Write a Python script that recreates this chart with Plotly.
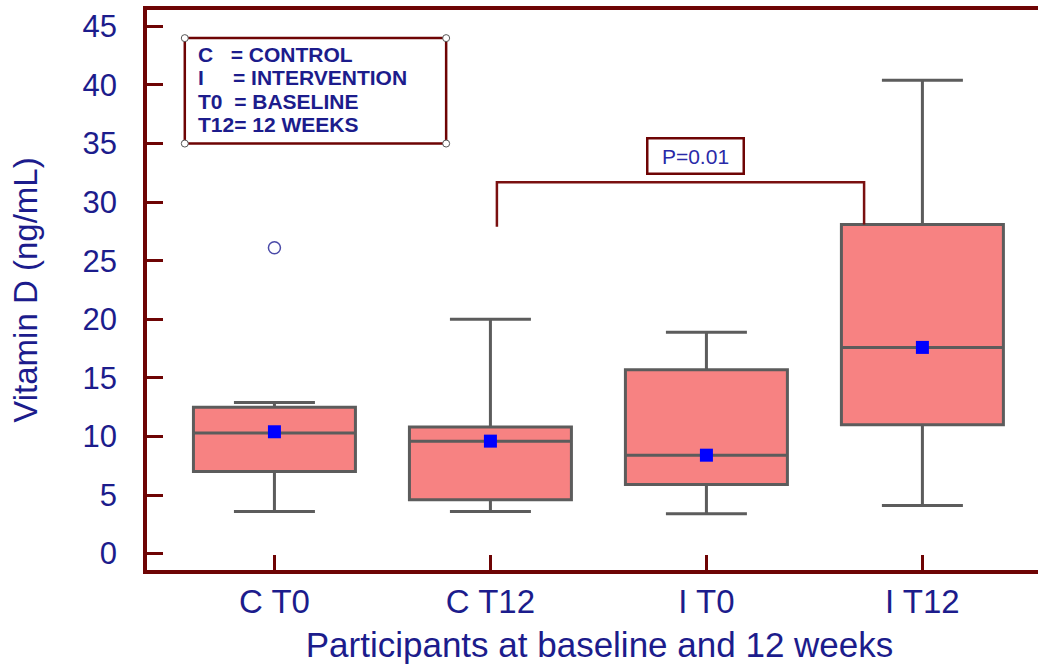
import plotly.graph_objects as go

# ---- data ----
groups = ["C T0", "C T12", "I T0", "I T12"]
lower_whisker = [3.6, 3.6, 3.4, 4.1]
q1 = [7.0, 4.6, 5.9, 11.0]
median = [10.3, 9.6, 8.4, 17.6]
q3 = [12.5, 10.8, 15.7, 28.1]
upper_whisker = [12.9, 20.0, 18.9, 40.4]
means = [10.4, 9.6, 8.4, 17.6]
outlier_group = ["C T0"]
outlier_value = [26.1]

legend_lines = ["C\u00a0\u00a0\u00a0= CONTROL", "I\u00a0\u00a0\u00a0\u00a0\u00a0= INTERVENTION",
                "T0\u00a0\u00a0= BASELINE", "T12= 12 WEEKS"]
legend_line_y = [42.6, 40.6, 38.6, 36.6]
p_text = "P=0.01"

AXIS = "#6e0404"
NAVY = "#1c1c8c"
FONT = "Liberation Sans, Arial, sans-serif"

fig = go.Figure()
fig.add_trace(go.Box(
    x=groups, q1=q1, median=median, q3=q3,
    lowerfence=lower_whisker, upperfence=upper_whisker,
    width=0.75, whiskerwidth=0.5,
    fillcolor="#f78282", line=dict(color="#5c5c5c", width=3),
    boxpoints=False, showlegend=False, hoverinfo="skip"))
fig.add_trace(go.Scatter(
    x=groups, y=means, mode="markers",
    marker=dict(symbol="square", size=13, color="#0000ff"),
    showlegend=False))
fig.add_trace(go.Scatter(
    x=outlier_group, y=outlier_value, mode="markers",
    marker=dict(symbol="circle-open", size=12, color="#4a4aa8", line=dict(width=1.5)),
    showlegend=False))

# significance bracket between C T12 and I T12
fig.add_shape(type="path", xref="x", yref="y",
              path="M 1.03,27.9 L 1.03,31.7 L 2.73,31.7 L 2.73,28.1",
              line=dict(color="#7a1010", width=2.5))
fig.add_annotation(x=1.95, y=33.9, xref="x", yref="y", text=p_text, showarrow=False,
                   font=dict(family=FONT, size=21, color="#2a2aa8"),
                   bordercolor="#6e0404", borderwidth=2.5, borderpad=5, bgcolor="white",
                   width=84)

# legend/key box
fig.add_shape(type="rect", xref="x", yref="y", x0=-0.415, x1=0.795, y0=35.0, y1=44.0,
              line=dict(color="#6e0404", width=2.5), fillcolor="white", layer="above")
for cx in (-0.415, 0.795):
    for cy in (35.0, 44.0):
        fig.add_shape(type="circle", xref="x", yref="y", xsizemode="pixel", ysizemode="pixel",
                      xanchor=cx, yanchor=cy, x0=-3.5, x1=3.5, y0=-3.5, y1=3.5,
                      line=dict(color="#555555", width=1), fillcolor="white", layer="above")
for line_text, ly in zip(legend_lines, legend_line_y):
    fig.add_annotation(x=-0.365, y=ly, xref="x", yref="y", xanchor="left", yanchor="middle",
                       text=line_text, align="left", showarrow=False,
                       font=dict(family=FONT, size=21, color=NAVY, weight="bold"))

# figure is slightly wider than the window so the plot area runs off the right edge
fig.update_layout(
    width=1052, height=664,
    margin=dict(l=147, r=0, t=10, b=94),
    paper_bgcolor="white", plot_bgcolor="white",
    font=dict(family=FONT, color=NAVY),
    xaxis=dict(type="category", range=[-0.59, 3.6], showgrid=False, zeroline=False,
               showline=True, linecolor=AXIS, linewidth=3.5, mirror=True,
               ticks="inside", ticklen=15, tickwidth=3, tickcolor=AXIS,
               tickfont=dict(size=33, color=NAVY), ticklabelstandoff=0,
               title=dict(text="Participants at baseline and 12 weeks",
                          font=dict(size=35, color=NAVY), standoff=20)),
    yaxis=dict(range=[-1.4, 46.4], tickmode="array", tickvals=list(range(0, 50, 5)),
               showgrid=False, zeroline=False, mirror=False,
               showline=True, linecolor=AXIS, linewidth=3.5,
               ticks="inside", ticklen=16, tickwidth=3, tickcolor=AXIS,
               tickfont=dict(size=31, color=NAVY), ticklabelstandoff=20,
               title=dict(text="Vitamin D (ng/mL)", font=dict(size=33, color=NAVY), standoff=36)),
)

fig.write_html("out.html", config={"displayModeBar": False},
               post_script="document.body.style.margin='0px';document.body.style.overflow='hidden';")
